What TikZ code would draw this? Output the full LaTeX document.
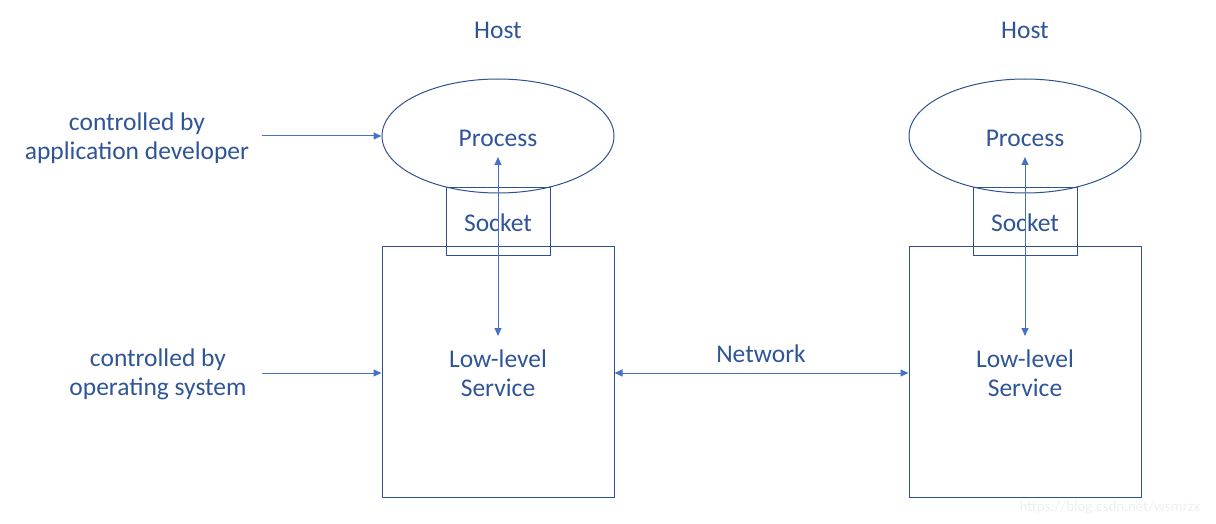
\documentclass[tikz,border=0pt]{standalone}
\usepackage{fontspec}
\setmainfont{Carlito}
\usetikzlibrary{arrows.meta,shapes.geometric}
\definecolor{txt}{HTML}{2F5597}
\definecolor{edge}{HTML}{2F528F}
\definecolor{arr}{HTML}{4472C4}
\definecolor{wm}{HTML}{EFEFEF}
\tikzset{
  lbl/.style={text=txt,font=\fontsize{25.5}{29}\selectfont,align=center,inner sep=0pt},
  proc/.style={draw=edge,line width=1pt,ellipse,minimum width=232pt,minimum height=114pt,inner sep=0pt},
  sock/.style={draw=edge,line width=1pt,rectangle,minimum width=104pt,minimum height=67pt,inner sep=0pt},
  svc/.style={draw=edge,line width=1pt,rectangle,minimum width=232pt,minimum height=251pt,inner sep=0pt},
  conn/.style={draw=arr,line width=1pt,-{Triangle[length=8pt,width=7pt]}},
  dconn/.style={draw=arr,line width=1pt,{Triangle[length=8pt,width=7pt]}-{Triangle[length=8pt,width=7pt]}}
}
\begin{document}
\begin{tikzpicture}[x=1pt,y=-1pt]
\useasboundingbox (0,0) rectangle (1216,524);
% left host
\node[lbl] (h1) at (498,30) {Host};
\node[proc] (p1) at (498,136) {};
\node[lbl] (p1t) at (498,138) {Process};
\node[svc] (s1) at (498,371.5) {};
\node[sock] (k1) at (498,221.5) {};
\node[lbl] (k1t) at (498,223) {Socket};
\node[lbl] (l1t) at (498,373) {Low-level\\Service};
% right host
\node[lbl] (h2) at (1025,30) {Host};
\node[proc] (p2) at (1025,136) {};
\node[lbl] (p2t) at (1025,138) {Process};
\node[svc] (s2) at (1025,371.5) {};
\node[sock] (k2) at (1025,221.5) {};
\node[lbl] (k2t) at (1025,223) {Socket};
\node[lbl] (l2t) at (1025,373) {Low-level\\Service};
% side labels
\node[lbl] (c1) at (137,138) {controlled by\\application developer};
\node[lbl] (c2) at (158,374) {controlled by\\operating system};
\node[lbl] (net) at (761,354) {Network};
% connector ends
\coordinate (a1) at (262,136);
\coordinate (a2) at (262,373);
\coordinate (v1a) at (498,157);
\coordinate (v1b) at (498,336);
\coordinate (v2a) at (1025,157);
\coordinate (v2b) at (1025,336);
\coordinate (n1) at (s1.east |- a2);
\coordinate (n2) at (s2.west |- a2);
% connectors
\draw[conn] (a1) -- (p1.west);
\draw[conn] (a2) -- (s1.west |- a2);
\draw[dconn] (v1b) -- (v1a);
\draw[dconn] (v2b) -- (v2a);
\draw[dconn] (n1) -- (n2);
% watermark
\node[text=wm,font=\fontsize{15}{18}\selectfont,inner sep=0pt] (wmk) at (1110,508) {https://blog.csdn.net/wsmrzx};
\end{tikzpicture}
\end{document}
